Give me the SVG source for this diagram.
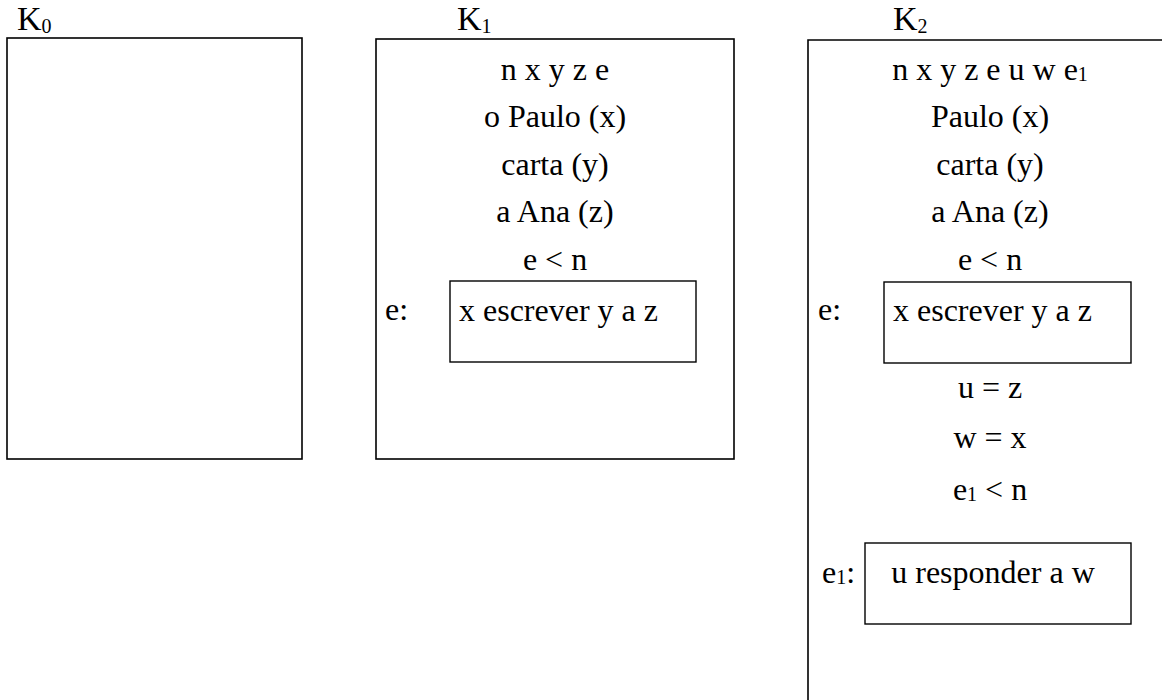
<svg xmlns="http://www.w3.org/2000/svg" width="1162" height="700" viewBox="0 0 1162 700">
  <style>
    .box { fill: none; stroke: #000; stroke-width: 1.6; }
    .inner { fill: none; stroke: #000; stroke-width: 1.4; }
    text { font-family: "Liberation Serif", "Times New Roman", serif; font-size: 32px; fill: #000; }
    .c { text-anchor: middle; }
    .lbl { font-size: 34px; }
    .sub { font-size: 20px; }
  </style>
  <rect width="1162" height="700" fill="#fff"/>

  <!-- K0: empty box -->
  <g id="k0">
    <text class="lbl" x="17" y="30">K<tspan class="sub" dy="3">0</tspan></text>
    <rect class="box" x="7" y="38" width="295" height="421"/>
  </g>

  <!-- K1 -->
  <g id="k1">
    <text class="lbl" x="457" y="30">K<tspan class="sub" dy="3">1</tspan></text>
    <rect class="box" x="376" y="39" width="358" height="420"/>
    <text class="c" x="555" y="80">n x y z e</text>
    <text class="c" x="555" y="127">o Paulo (x)</text>
    <text class="c" x="555" y="175">carta (y)</text>
    <text class="c" x="555" y="222">a Ana (z)</text>
    <text class="c" x="555" y="270">e &lt; n</text>
    <g id="k1-e">
      <text x="385" y="320">e:</text>
      <rect class="inner" x="450" y="281" width="246" height="81"/>
      <text x="459" y="321">x escrever y a z</text>
    </g>
  </g>

  <!-- K2: box runs off the right and bottom edges -->
  <g id="k2">
    <text class="lbl" x="893" y="30">K<tspan class="sub" dy="3">2</tspan></text>
    <path class="box" d="M1170 40 H808 V710"/>
    <text class="c" x="990" y="80">n x y z e u w e<tspan class="sub" dy="1">1</tspan></text>
    <text class="c" x="990" y="127">Paulo (x)</text>
    <text class="c" x="990" y="175">carta (y)</text>
    <text class="c" x="990" y="222">a Ana (z)</text>
    <text class="c" x="990" y="270">e &lt; n</text>
    <g id="k2-e">
      <text x="818" y="320">e:</text>
      <rect class="inner" x="884" y="282" width="247" height="81"/>
      <text x="893" y="321">x escrever y a z</text>
    </g>
    <text class="c" x="990" y="398">u = z</text>
    <text class="c" x="990" y="448">w = x</text>
    <text class="c" x="990" y="500">e<tspan class="sub" dy="1">1</tspan><tspan dy="-1"> &lt; n</tspan></text>
    <g id="k2-e1">
      <text x="822" y="583">e<tspan class="sub" dy="1">1</tspan><tspan dy="-1">:</tspan></text>
      <rect class="inner" x="865" y="543" width="266" height="81"/>
      <text class="c" x="993" y="583">u responder a w</text>
    </g>
  </g>

  <!-- no connectors in this figure -->
  <g id="connectors"/>
</svg>
